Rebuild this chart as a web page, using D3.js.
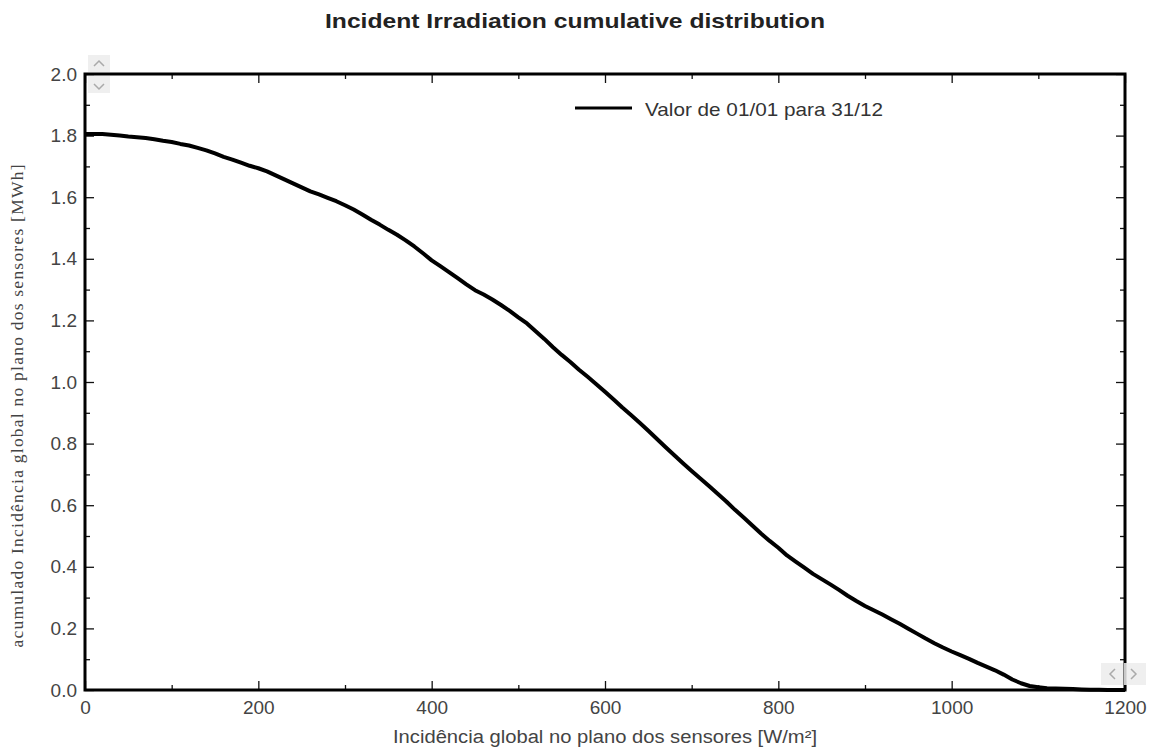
<!DOCTYPE html>
<html>
<head>
<meta charset="utf-8">
<script src="https://cdn.jsdelivr.net/npm/d3@7"></script>
<style>
  html, body { margin: 0; padding: 0; background: #fff; }
  svg { display: block; }
</style>
</head>
<body>
<svg id="chart" width="1159" height="749"></svg>
<script>
// Cumulative irradiation (MWh) at or above each incidence level, every 10 W/m²
const irradiance = d3.range(0, 1201, 10);
const cumulative = [
  1.805, 1.805, 1.805, 1.803, 1.800, 1.797, 1.795, 1.792, 1.788, 1.783,
  1.779, 1.773, 1.768, 1.760, 1.752, 1.742, 1.731, 1.722, 1.712, 1.702,
  1.694, 1.684, 1.671, 1.658, 1.645, 1.632, 1.619, 1.609, 1.598, 1.587,
  1.574, 1.560, 1.544, 1.527, 1.511, 1.494, 1.478, 1.460, 1.440, 1.418,
  1.395, 1.376, 1.357, 1.337, 1.317, 1.298, 1.284, 1.268, 1.250, 1.231,
  1.210, 1.190, 1.165, 1.140, 1.113, 1.088, 1.065, 1.040, 1.017, 0.993,
  0.968, 0.943, 0.917, 0.893, 0.868, 0.842, 0.815, 0.788, 0.762, 0.736,
  0.711, 0.687, 0.662, 0.637, 0.612, 0.585, 0.560, 0.534, 0.508, 0.484,
  0.462, 0.437, 0.417, 0.397, 0.377, 0.360, 0.343, 0.325, 0.306, 0.289,
  0.273, 0.259, 0.245, 0.230, 0.215, 0.199, 0.183, 0.167, 0.152, 0.138,
  0.125, 0.113, 0.101, 0.088, 0.076, 0.064, 0.050, 0.034, 0.022, 0.013,
  0.009, 0.006, 0.005, 0.004, 0.003, 0.002, 0.001, 0.001, 0.000, 0.000,
  0.000
];
const xTicks = [0, 200, 400, 600, 800, 1000, 1200];
const xMinorTicks = [100, 300, 500, 700, 900, 1100];
const yTicks = [0.0, 0.2, 0.4, 0.6, 0.8, 1.0, 1.2, 1.4, 1.6, 1.8, 2.0];
const yMinorTicks = [0.1, 0.3, 0.5, 0.7, 0.9, 1.1, 1.3, 1.5, 1.7, 1.9];

const titleText = "Incident Irradiation cumulative distribution";
const xLabel = "Incidência global no plano dos sensores [W/m²]";
const yLabel = "acumulado Incidência global no plano dos sensores [MWh]";
const seriesName = "Valor de 01/01 para 31/12";

const svg = d3.select("#chart");
const plotLeft = 85, plotRight = 1125, plotTop = 74, plotBottom = 690;

const x = d3.scaleLinear().domain([0, 1200]).range([plotLeft, plotRight]);
const y = d3.scaleLinear().domain([0, 2]).range([plotBottom, plotTop]);

const sansFont = "'Liberation Sans', Arial, sans-serif";

// Title
svg.append("text")
  .attr("x", 575).attr("y", 28)
  .attr("text-anchor", "middle")
  .attr("font-family", sansFont)
  .attr("font-weight", "bold")
  .attr("font-size", 21)
  .attr("fill", "#222")
  .attr("textLength", 500)
  .attr("lengthAdjust", "spacingAndGlyphs")
  .text(titleText);

// Inward ticks on all four sides
function tickAxis(axisFn, scale, values, size, transform) {
  const g = svg.append("g")
    .attr("transform", transform)
    .call(axisFn(scale).tickValues(values).tickSize(size).tickFormat(""));
  g.select(".domain").remove();
  g.selectAll("line").attr("stroke", "#111").attr("stroke-width", 1.3);
  return g;
}
tickAxis(d3.axisBottom, x, xTicks, -9, `translate(0,${plotBottom})`);
tickAxis(d3.axisBottom, x, xMinorTicks, -5, `translate(0,${plotBottom})`);
tickAxis(d3.axisTop, x, xTicks, -9, `translate(0,${plotTop})`);
tickAxis(d3.axisTop, x, xMinorTicks, -5, `translate(0,${plotTop})`);
tickAxis(d3.axisLeft, y, yTicks, -9, `translate(${plotLeft},0)`);
tickAxis(d3.axisLeft, y, yMinorTicks, -5, `translate(${plotLeft},0)`);
tickAxis(d3.axisRight, y, yTicks, -9, `translate(${plotRight},0)`);
tickAxis(d3.axisRight, y, yMinorTicks, -5, `translate(${plotRight},0)`);

// Tick labels
const xAxisLabels = svg.append("g")
  .attr("transform", `translate(0,${plotBottom})`)
  .call(d3.axisBottom(x).tickValues(xTicks).tickSize(0).tickPadding(11).tickFormat(d3.format("d")));
xAxisLabels.select(".domain").remove();
xAxisLabels.selectAll("text")
  .attr("font-family", sansFont).attr("font-size", 19).attr("fill", "#444");

const yAxisLabels = svg.append("g")
  .attr("transform", `translate(${plotLeft},0)`)
  .call(d3.axisLeft(y).tickValues(yTicks).tickSize(0).tickPadding(8).tickFormat(d3.format(".1f")));
yAxisLabels.select(".domain").remove();
yAxisLabels.selectAll("text")
  .attr("font-family", sansFont).attr("font-size", 19).attr("fill", "#444");

// Axis titles
svg.append("text")
  .attr("x", 605).attr("y", 743)
  .attr("text-anchor", "middle")
  .attr("font-family", sansFont)
  .attr("font-size", 18)
  .attr("fill", "#444")
  .attr("textLength", 424)
  .attr("lengthAdjust", "spacingAndGlyphs")
  .text(xLabel);

svg.append("text")
  .attr("transform", "translate(23,406) rotate(-90)")
  .attr("text-anchor", "middle")
  .attr("font-family", "'Liberation Serif', 'Times New Roman', serif")
  .attr("font-size", 17.5)
  .attr("fill", "#444")
  .attr("textLength", 483)
  .attr("lengthAdjust", "spacing")
  .text(yLabel);

// Data curve
const line = d3.line()
  .x((d, i) => x(irradiance[i]))
  .y(d => y(d))
  .curve(d3.curveLinear);

svg.append("path")
  .datum(cumulative)
  .attr("d", line)
  .attr("fill", "none")
  .attr("stroke", "#000")
  .attr("stroke-width", 4)
  .attr("stroke-linejoin", "round");

// Plot frame
svg.append("rect")
  .attr("x", plotLeft).attr("y", plotTop)
  .attr("width", plotRight - plotLeft).attr("height", plotBottom - plotTop)
  .attr("fill", "none")
  .attr("stroke", "#000")
  .attr("stroke-width", 3);

// Legend
svg.append("line")
  .attr("x1", 575).attr("x2", 632)
  .attr("y1", 108).attr("y2", 108)
  .attr("stroke", "#000").attr("stroke-width", 3);
svg.append("text")
  .attr("x", 645).attr("y", 116)
  .attr("font-family", sansFont)
  .attr("font-size", 19)
  .attr("fill", "#333")
  .attr("textLength", 238)
  .attr("lengthAdjust", "spacingAndGlyphs")
  .text(seriesName);

// Scroll controls
function scrollButton(bx, by, bw, bh, path) {
  svg.append("rect")
    .attr("x", bx).attr("y", by).attr("width", bw).attr("height", bh)
    .attr("fill", "#ececec").attr("opacity", 0.85);
  svg.append("path")
    .attr("d", path)
    .attr("fill", "none").attr("stroke", "#aaa").attr("stroke-width", 1.5);
}
scrollButton(88, 55, 22, 17, "M94,66 L99,61 L104,66");
scrollButton(88, 76, 22, 17, "M94,84 L99,89 L104,84");
scrollButton(1101, 663, 22, 22, "M1115,669 L1110,674 L1115,679");
scrollButton(1124, 663, 22, 22, "M1131,669 L1136,674 L1131,679");
</script>
</body>
</html>
